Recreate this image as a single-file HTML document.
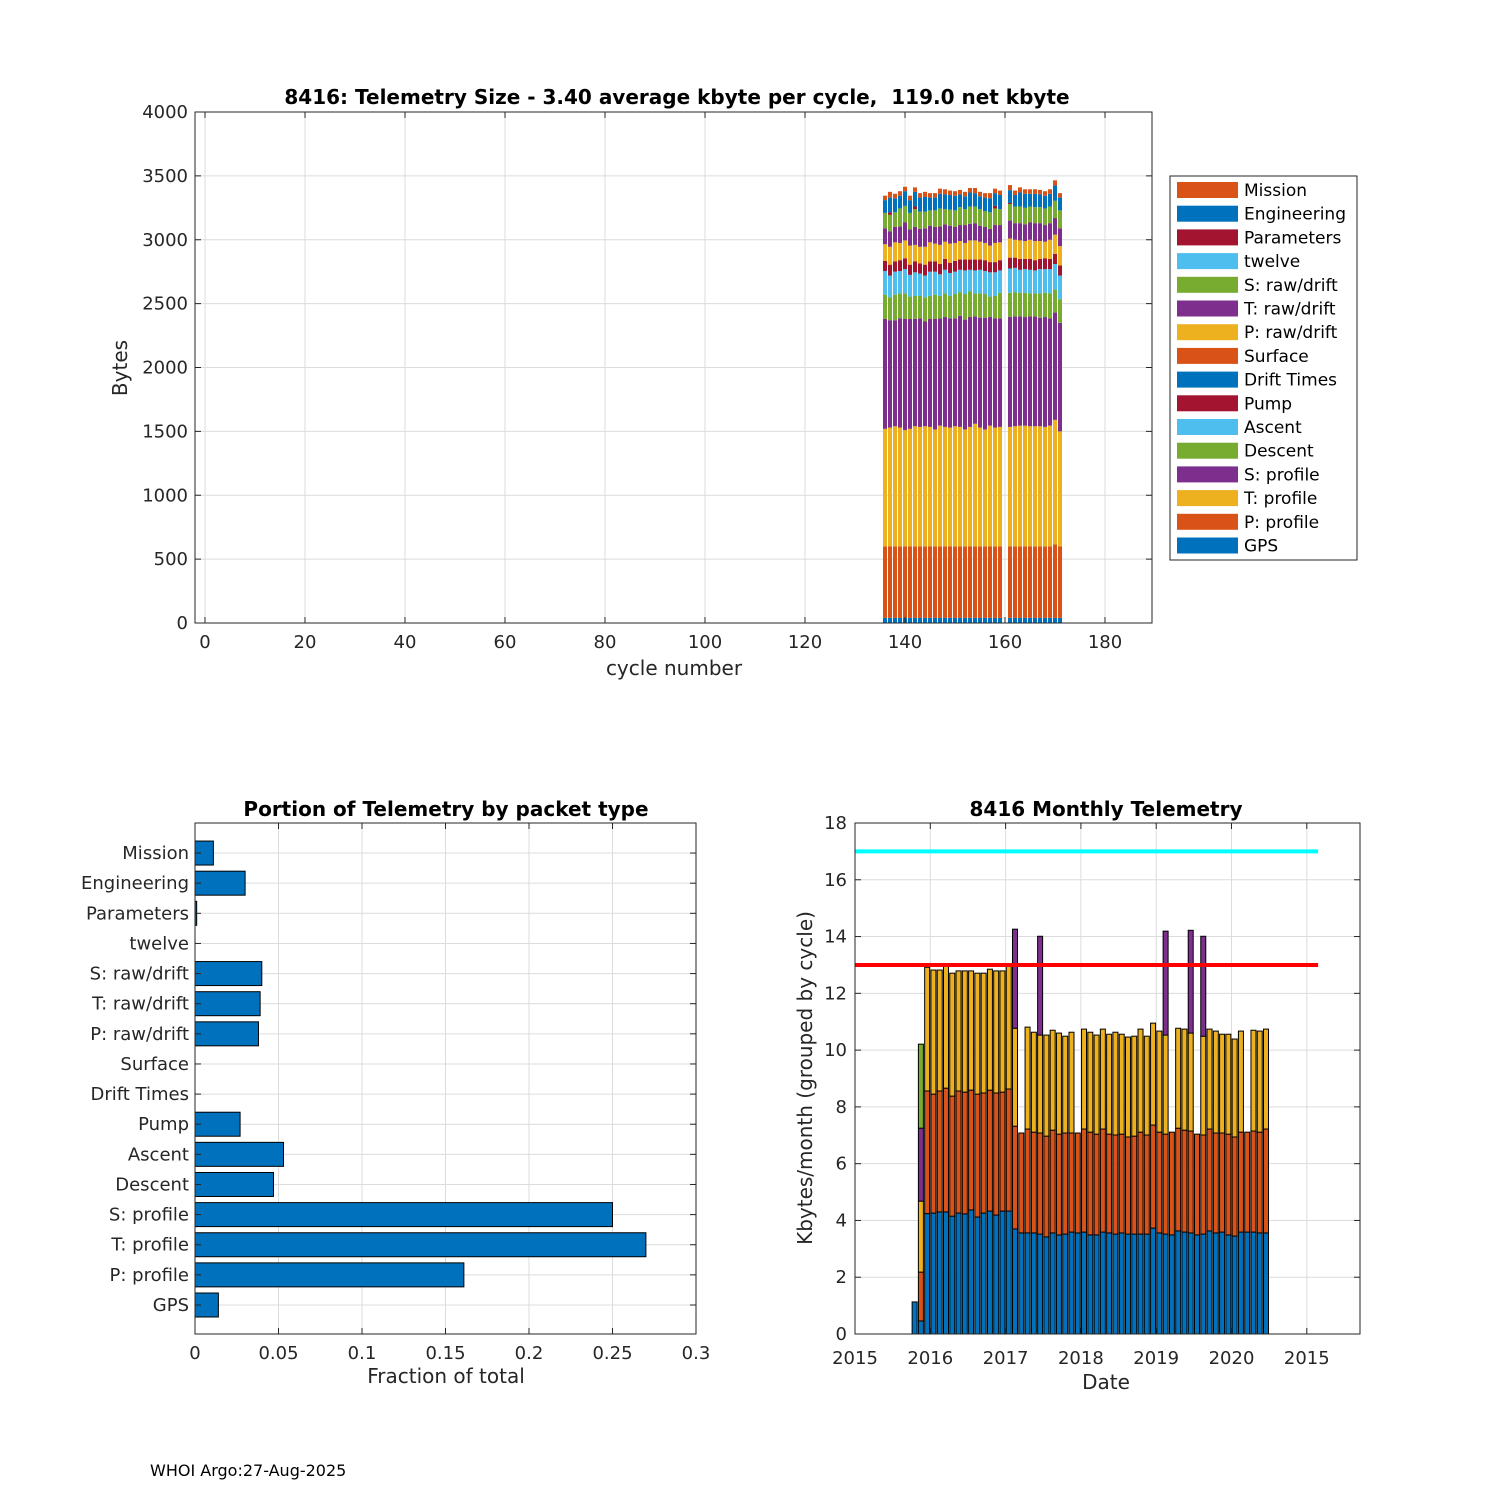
<!DOCTYPE html>
<html><head><meta charset="utf-8">
<style>
body{margin:0;background:#fff;}
svg{display:block;font-family:"DejaVu Sans","Liberation Sans",sans-serif;}
</style></head>
<body>
<svg id="fig" width="1500" height="1500" viewBox="0 0 1500 1500">
<rect width="1500" height="1500" fill="#fff"/>
<g id="top"></g>
<g id="bl"></g>
<g id="br"></g>
<text x="150" y="1476" font-size="16" fill="#000">WHOI Argo:27-Aug-2025</text>
</svg>
<script>
// ---------- TOP CHART DATA ----------
const cycles=[136,137,138,139,140,141,142,143,144,145,146,147,148,149,150,151,152,153,154,155,156,157,158,159,161,162,163,164,165,166,167,168,169,170,171];
const seriesNames=["GPS","P: profile","T: profile","S: profile","Descent","Ascent","Pump","Drift Times","Surface","P: raw/drift","T: raw/drift","S: raw/drift","twelve","Parameters","Engineering","Mission"];
const seriesColors=["#0072BD","#D95319","#EDB120","#7E2F8E","#77AC30","#4DBEEE","#A2142F","#0072BD","#D95319","#EDB120","#7E2F8E","#77AC30","#4DBEEE","#A2142F","#0072BD","#D95319"];
const gps=[40,40,40,40,40,40,40,40,40,40,40,40,40,40,40,40,40,40,40,40,40,40,40,40,40,40,40,40,40,40,40,40,40,40,40];
const pprof=[560,560,560,560,560,560,560,560,560,560,560,560,560,560,560,560,560,560,560,560,560,560,560,560,560,560,560,560,560,560,560,560,560,575,560];
const tprof=[920,930,940,930,910,920,940,935,940,935,915,945,935,930,940,935,915,935,960,930,915,945,930,935,935,940,945,945,940,940,940,935,945,975,900];
const sprof=[860,840,830,855,870,860,840,850,820,845,865,840,860,855,845,870,860,860,840,860,875,850,855,850,860,860,855,850,860,860,850,860,840,840,850];
const descent=[190,180,200,195,200,175,180,175,190,180,190,175,185,175,190,185,200,200,180,190,185,160,175,200,190,190,185,190,180,180,190,190,195,180,185];
const ascent=[185,170,180,175,190,170,185,175,170,190,180,170,185,180,175,175,185,170,180,185,180,190,185,175,190,190,180,185,185,180,190,185,190,200,185];
const pump=[80,85,80,85,85,80,85,80,85,80,80,80,85,80,85,80,85,80,85,80,85,80,80,80,85,80,85,80,85,80,80,85,80,80,80];
const drift=[0,0,0,0,0,0,0,0,0,0,0,0,0,0,0,0,0,0,0,0,0,0,0,0,0,0,0,0,0,0,0,0,0,0,0];
const surface=[0,0,0,0,0,0,0,0,0,0,0,0,0,0,0,0,0,0,0,0,0,0,0,0,0,0,0,0,0,0,0,0,0,0,0];
const praw=[130,140,150,135,140,150,130,130,140,150,140,150,135,150,140,145,130,150,150,140,135,130,150,140,150,140,145,140,150,150,140,130,150,150,150];
const traw=[125,120,120,130,140,125,140,140,145,130,130,145,135,140,125,125,140,130,135,125,125,130,140,135,140,130,135,130,135,140,140,130,130,130,140];
const sraw=[120,130,115,140,130,130,140,135,130,120,130,140,120,125,130,140,125,135,130,130,125,130,130,125,130,130,130,130,125,125,125,130,130,135,140];
const twelve=[0,0,0,0,0,0,0,0,0,0,0,0,0,0,0,0,0,0,0,0,0,0,0,0,0,0,0,0,0,0,0,0,0,0,0];
const params=[0,20,0,0,0,0,20,0,0,0,0,0,0,0,0,0,0,0,0,0,0,0,20,0,8,0,0,0,0,0,0,0,0,0,0];
const eng=[100,115,110,100,115,100,115,110,115,100,100,115,115,115,115,100,100,110,105,100,105,110,100,110,100,90,110,110,100,105,100,100,100,120,100];
const mission=[35,45,35,35,35,35,35,35,40,35,35,40,40,35,35,35,35,35,40,35,35,40,35,35,40,35,40,35,35,35,35,35,35,40,35];
const topXTicks=[0,20,40,60,80,100,120,140,160,180];
const topYTicks=[0,500,1000,1500,2000,2500,3000,3500,4000];

// ---------- PORTION DATA ----------
const portionCats=["GPS","P: profile","T: profile","S: profile","Descent","Ascent","Pump","Drift Times","Surface","P: raw/drift","T: raw/drift","S: raw/drift","twelve","Parameters","Engineering","Mission"];
const portionVals=[0.014,0.161,0.27,0.25,0.047,0.053,0.027,0,0,0.038,0.039,0.04,0,0.001,0.03,0.011];
const portionXTicks=[0,0.05,0.1,0.15,0.2,0.25,0.3];
const portionXLabels=["0","0.05","0.1","0.15","0.2","0.25","0.3"];

// ---------- MONTHLY DATA ----------
const mBlue=[1.13,0.46,4.24,4.26,4.30,4.30,4.15,4.26,4.23,4.37,4.12,4.26,4.33,4.19,4.33,4.33,3.70,3.56,3.56,3.56,3.52,3.42,3.56,3.49,3.52,3.59,3.56,3.59,3.49,3.49,3.59,3.56,3.52,3.56,3.52,3.52,3.52,3.52,3.73,3.56,3.52,3.49,3.63,3.59,3.56,3.49,3.52,3.63,3.56,3.59,3.49,3.45,3.59,3.59,3.59,3.56,3.56];
const mOrange=[1.13,2.18,8.56,8.45,8.56,8.66,8.38,8.56,8.52,8.59,8.45,8.49,8.59,8.49,8.52,8.63,7.32,7.08,7.22,7.11,7.08,6.97,7.18,7.04,7.08,7.08,7.08,7.22,7.11,7.04,7.22,7.04,7.01,7.04,6.94,6.97,7.11,7.01,7.36,7.11,7.04,7.11,7.25,7.18,7.15,7.04,7.01,7.22,7.08,7.08,7.04,6.94,7.11,7.11,7.15,7.11,7.22];
const mYellow=[1.13,4.68,12.92,12.82,12.82,13.00,12.71,12.79,12.79,12.79,12.71,12.71,12.85,12.79,12.79,12.96,10.77,7.08,10.81,10.63,10.53,10.53,10.70,10.60,10.49,10.63,7.08,10.74,10.63,10.53,10.74,10.56,10.63,10.56,10.46,10.49,10.74,10.49,10.95,10.67,10.53,7.11,10.77,10.74,10.60,7.04,10.49,10.74,10.67,10.56,10.56,10.39,10.67,7.11,10.70,10.67,10.74];
const mPurple=[1.13,7.25,12.92,12.82,12.82,13.00,12.71,12.79,12.79,12.79,12.71,12.71,12.85,12.79,12.79,12.96,14.26,7.08,10.81,10.63,14.01,10.53,10.70,10.60,10.49,10.63,7.08,10.74,10.63,10.53,10.74,10.56,10.63,10.56,10.46,10.49,10.74,10.49,10.95,10.67,14.19,7.11,10.77,10.74,14.22,7.04,14.01,10.74,10.67,10.56,10.56,10.39,10.67,7.11,10.70,10.67,10.74];
const mGreen=[1.13,10.21,12.92,12.82,12.82,13.00,12.71,12.79,12.79,12.79,12.71,12.71,12.85,12.79,12.79,12.96,14.26,7.08,10.81,10.63,14.01,10.53,10.70,10.60,10.49,10.63,7.08,10.74,10.63,10.53,10.74,10.56,10.63,10.56,10.46,10.49,10.74,10.49,10.95,10.67,14.19,7.11,10.77,10.74,14.22,7.04,14.01,10.74,10.67,10.56,10.56,10.39,10.67,7.11,10.70,10.67,10.74];
const mStartMonth=9.5;
const mYTicks=[0,2,4,6,8,10,12,14,16,18];
const mXTickYears=[0,1,2,3,4,5,6];
const mXLabels=["2015","2016","2017","2018","2019","2020","2015"];
const cyanLevel=17, redLevel=13, lineEndYears=6.15;

// ---------- helpers ----------
const NS="http://www.w3.org/2000/svg";
function mk(parent,tag,attrs,text){const e=document.createElementNS(NS,tag);for(const k in attrs)e.setAttribute(k,attrs[k]);if(text!==undefined)e.textContent=text;parent.appendChild(e);return e;}
const GRID="#dcdcdc", AX="#262626";

// ---------- TOP ----------
(function(){
const g=document.getElementById('top');
const L=195,R=1152,T=112,B=623;
const x=v=>205+v*5; const y=v=>B-v*(B-T)/4000;
topXTicks.forEach(v=>{const l=mk(g,'line',{x1:x(v),x2:x(v),y1:T,y2:B,stroke:GRID});});
topYTicks.forEach(v=>{const l=mk(g,'line',{x1:L,x2:R,y1:y(v),y2:y(v),stroke:GRID});});
const series=[gps,pprof,tprof,sprof,descent,ascent,pump,drift,surface,praw,traw,sraw,twelve,params,eng,mission];
cycles.forEach((c,i)=>{let base=0;series.forEach((s,k)=>{const v=s[i];if(v>0){const r=mk(g,'rect',{x:x(c)-2,y:y(base+v),width:4,height:y(base)-y(base+v),fill:seriesColors[k]});

}base+=v;});});
mk(g,'rect',{x:L,y:T,width:R-L,height:B-T,fill:'none',stroke:AX,'stroke-width':1});
topXTicks.forEach(v=>{mk(g,'line',{x1:x(v),x2:x(v),y1:B,y2:B-6,stroke:AX});mk(g,'line',{x1:x(v),x2:x(v),y1:T,y2:T+6,stroke:AX});
const t=mk(g,'text',{x:x(v),y:B+25,'font-size':18,'text-anchor':'middle',fill:AX},String(v));});
topYTicks.forEach(v=>{mk(g,'line',{x1:L,x2:L+6,y1:y(v),y2:y(v),stroke:AX});mk(g,'line',{x1:R,x2:R-6,y1:y(v),y2:y(v),stroke:AX});
const t=mk(g,'text',{x:L-7,y:y(v)+6,'font-size':18,'text-anchor':'end',fill:AX},String(v));});
const tt=mk(g,'text',{x:677,y:104,'font-size':20,'font-weight':'bold','text-anchor':'middle',fill:'#000'},'8416: Telemetry Size - 3.40 average kbyte per cycle,\u00a0 119.0 net kbyte');
const xl=mk(g,'text',{x:674,y:675,'font-size':20,'text-anchor':'middle',fill:AX},'cycle number');
const yl=mk(g,'text',{x:0,y:0,'font-size':20,'text-anchor':'middle',fill:AX,transform:'translate(127,368) rotate(-90)'},'Bytes');
const lg=mk(g,'g',{});
mk(lg,'rect',{x:1170,y:176,width:187,height:384,fill:'#fff',stroke:AX});
for(let k=15;k>=0;k--){const row=15-k;const yy=190+row*23.7;
const e=mk(lg,'g',{});
mk(e,'rect',{x:1177,y:yy-8,width:61,height:16,fill:seriesColors[k]});
mk(e,'text',{x:1244,y:yy+6,'font-size':17,fill:'#000'},seriesNames[k]);}
})();

// ---------- PORTION ----------
(function(){
const g=document.getElementById('bl');
const L=195,R=696,T=823,B=1334;
const x=v=>L+v*(R-L)/0.3; const y=i=>1305-i*30.13;
portionXTicks.forEach(v=>mk(g,'line',{x1:x(v),x2:x(v),y1:T,y2:B,stroke:GRID}));
portionCats.forEach((c,i)=>mk(g,'line',{x1:L,x2:R,y1:y(i),y2:y(i),stroke:GRID}));
portionVals.forEach((v,i)=>{if(v>0){const r=mk(g,'rect',{x:x(0),y:y(i)-12,width:x(v)-x(0),height:24,fill:'#0072BD',stroke:'#000','stroke-width':1});

}});
mk(g,'rect',{x:L,y:T,width:R-L,height:B-T,fill:'none',stroke:AX});
portionXTicks.forEach((v,i)=>{mk(g,'line',{x1:x(v),x2:x(v),y1:B,y2:B-6,stroke:AX});mk(g,'line',{x1:x(v),x2:x(v),y1:T,y2:T+6,stroke:AX});
const t=mk(g,'text',{x:x(v),y:B+25,'font-size':18,'text-anchor':'middle',fill:AX},portionXLabels[i]);});
portionCats.forEach((c,i)=>{mk(g,'line',{x1:L,x2:L+6,y1:y(i),y2:y(i),stroke:AX});mk(g,'line',{x1:R,x2:R-6,y1:y(i),y2:y(i),stroke:AX});
const t=mk(g,'text',{x:L-6,y:y(i)+6,'font-size':18,'text-anchor':'end',fill:AX},c);});
const tt=mk(g,'text',{x:446,y:816,'font-size':20,'font-weight':'bold','text-anchor':'middle',fill:'#000'},'Portion of Telemetry by packet type');
const xl=mk(g,'text',{x:446,y:1383,'font-size':20,'text-anchor':'middle',fill:AX},'Fraction of total');
})();

// ---------- MONTHLY ----------
(function(){
const g=document.getElementById('br');
const L=855,R=1360,T=823,B=1334;
const yr=75.3;
const x=years=>L+years*yr; const y=v=>B-v*(B-T)/18;
mXTickYears.forEach(v=>mk(g,'line',{x1:x(v),x2:x(v),y1:T,y2:B,stroke:GRID}));
mYTicks.forEach(v=>mk(g,'line',{x1:L,x2:R,y1:y(v),y2:y(v),stroke:GRID}));
const stacks=[mBlue,mOrange,mYellow,mPurple,mGreen];
const cols=["#0072BD","#D95319","#EDB120","#7E2F8E","#77AC30"];
mBlue.forEach((_,i)=>{const cx=x((mStartMonth+i)/12);let prev=0;
stacks.forEach((s,k)=>{const top=s[i];if(top>prev+0.001){const r=mk(g,'rect',{x:cx-2.5,y:y(top),width:5,height:y(prev)-y(top),fill:cols[k],stroke:'#000','stroke-width':1});

}prev=Math.max(prev,top);});});
const c=mk(g,'line',{x1:x(0),x2:x(lineEndYears),y1:y(cyanLevel),y2:y(cyanLevel),stroke:'#00FFFF','stroke-width':4});
const r=mk(g,'line',{x1:x(0),x2:x(lineEndYears),y1:y(redLevel),y2:y(redLevel),stroke:'#FF0000','stroke-width':4});
mk(g,'rect',{x:L,y:T,width:R-L,height:B-T,fill:'none',stroke:AX});
mXTickYears.forEach((v,i)=>{mk(g,'line',{x1:x(v),x2:x(v),y1:B,y2:B-6,stroke:AX});mk(g,'line',{x1:x(v),x2:x(v),y1:T,y2:T+6,stroke:AX});
const t=mk(g,'text',{x:x(v),y:B+30,'font-size':18,'text-anchor':'middle',fill:AX},mXLabels[i]);});
mYTicks.forEach(v=>{mk(g,'line',{x1:L,x2:L+6,y1:y(v),y2:y(v),stroke:AX});mk(g,'line',{x1:R,x2:R-6,y1:y(v),y2:y(v),stroke:AX});
const t=mk(g,'text',{x:L-8,y:y(v)+6,'font-size':18,'text-anchor':'end',fill:AX},String(v));});
const tt=mk(g,'text',{x:1106,y:816,'font-size':20,'font-weight':'bold','text-anchor':'middle',fill:'#000'},'8416 Monthly Telemetry');
const xl=mk(g,'text',{x:1106,y:1389,'font-size':20,'text-anchor':'middle',fill:AX},'Date');
const yl=mk(g,'text',{x:0,y:0,'font-size':20,'text-anchor':'middle',fill:AX,transform:'translate(812,1078) rotate(-90)'},'Kbytes/month (grouped by cycle)');
})();
</script>
</body></html>
